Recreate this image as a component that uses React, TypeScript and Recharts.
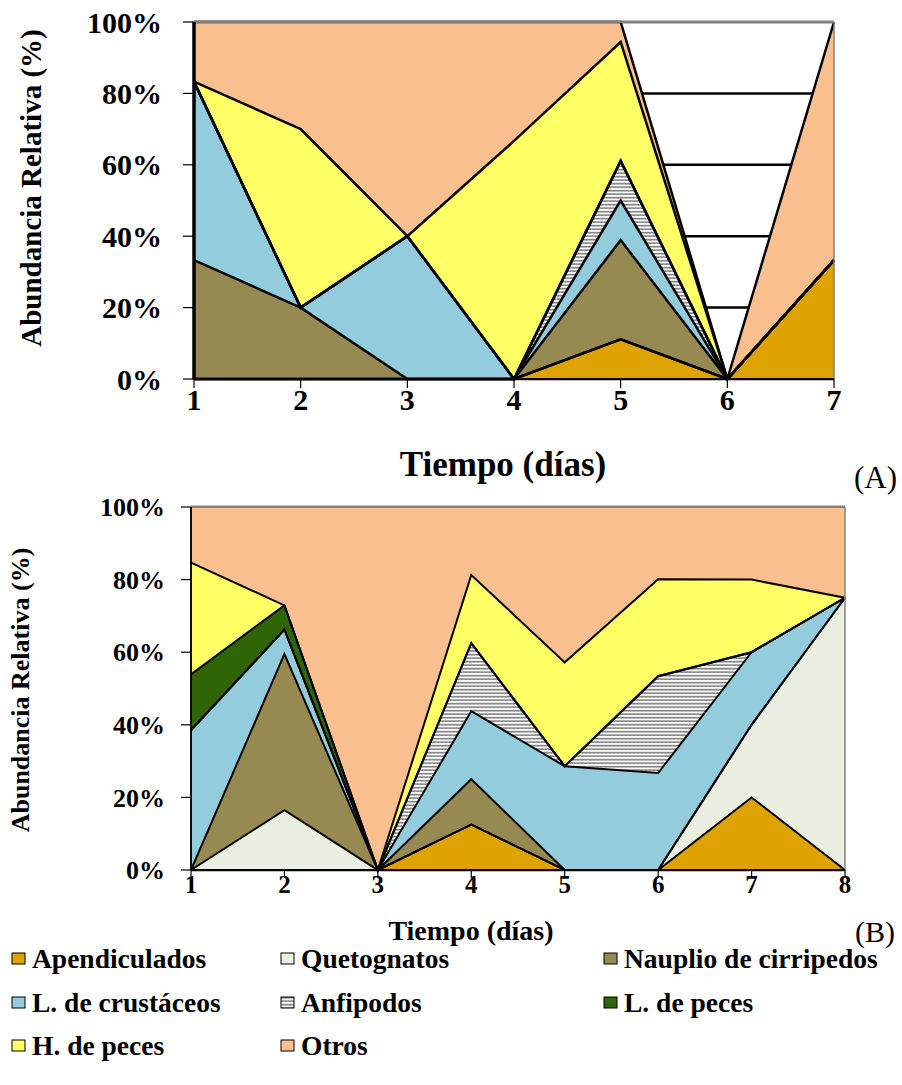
import React from 'react';
import { AreaChart, Area, XAxis, YAxis, CartesianGrid, ReferenceLine } from 'recharts';

const FONT = '"Liberation Serif", "Times New Roman", serif';

// stacking order, bottom to top
const SERIES = ['apend', 'queto', 'naup', 'crust', 'anfi', 'lpeces', 'hpeces', 'otros'];
const LABELS = [
  'Apendiculados',
  'Quetognatos',
  'Nauplio de cirripedos',
  'L. de crustáceos',
  'Anfipodos',
  'L. de peces',
  'H. de peces',
  'Otros',
];
const COLORS = ['#DEA300', '#EBEFE1', '#968A52', '#92CCDD', 'PATTERN', '#2F6505', '#FFFF66', '#F9BF8F'];

const Y_TICKS = [0, 20, 40, 60, 80, 100];

// (A)
const daysA = [1, 2, 3, 4, 5, 6, 7];
const apendA = [0, 0, 0, 0, 11.1, 0, 33.3];
const quetoA = [0, 0, 0, 0, 0, 0, 0];
const naupA = [33.3, 20, 0, 0, 27.8, 0, 0];
const crustA = [50, 0, 40, 0, 11.1, 0, 0];
const anfiA = [0, 0, 0, 0, 11.1, 0, 0];
const lpecesA = [0, 0, 0, 0, 0, 0, 0];
const hpecesA = [0, 50, 0, 66.7, 33.3, 0, 0];
const otrosA = [16.7, 30, 60, 33.3, 5.6, 0, 66.7];

// (B)
const daysB = [1, 2, 3, 4, 5, 6, 7, 8];
const apendB = [0, 0, 0, 12.5, 0, 0, 20, 0];
const quetoB = [0, 16.5, 0, 0, 0, 0, 20, 75];
const naupB = [0, 43, 0, 12.5, 0, 0, 0, 0];
const crustB = [38.5, 6.7, 0, 18.75, 28.6, 26.7, 20, 0];
const anfiB = [0, 0, 0, 18.75, 0, 26.7, 0, 0];
const lpecesB = [15.4, 6.7, 0, 0, 0, 0, 0, 0];
const hpecesB = [30.8, 0, 0, 18.75, 28.6, 26.7, 20, 0];
const otrosB = [15.3, 27.1, 100, 18.75, 42.8, 19.9, 20, 25];

const buildRows = (days: number[], cols: number[][]) =>
  days.map((day, i) => {
    const row: Record<string, number> = { day };
    SERIES.forEach((k, j) => {
      row[k] = cols[j][i];
    });
    return row;
  });

const rowsA = buildRows(daysA, [apendA, quetoA, naupA, crustA, anfiA, lpecesA, hpecesA, otrosA]);
const rowsB = buildRows(daysB, [apendB, quetoB, naupB, crustB, anfiB, lpecesB, hpecesB, otrosB]);

const ZigPattern = ({ id }: { id: string }) => (
  <pattern id={id} width={4} height={3.5} patternUnits="userSpaceOnUse">
    <rect width={4} height={3.5} fill="#fff" />
    <path d="M0 2.6 L1 0.8 L2 2.6 L3 0.8 L4 2.6" stroke="#000" strokeWidth={0.5} fill="none" />
  </pattern>
);

interface PanelProps {
  rows: Record<string, number>[];
  days: number[];
  top: number;
  height: number;
  margin: { top: number; right: number; bottom: number; left: number };
  yWidth: number;
  xHeight: number;
  yFont: number;
  xFont: number;
  yTickSize: number;
  yTickMargin: number;
  xTickSize: number;
  xTickMargin: number;
  patId: string;
  lineW: number;
  axisW: number;
}

const Panel = (p: PanelProps) => {
  const first = p.days[0];
  const last = p.days[p.days.length - 1];
  const tickStyle = (size: number) => ({ fill: '#000', fontSize: size, fontWeight: 'bold', fontFamily: FONT });
  return (
    <div style={{ position: 'absolute', left: 0, top: p.top }}>
      <AreaChart width={902} height={p.height} data={p.rows} margin={p.margin}>
        <defs>
          <ZigPattern id={p.patId} />
        </defs>
        <CartesianGrid vertical={false} stroke="#000" strokeWidth={2.5} />
        <XAxis
          type="number"
          dataKey="day"
          domain={[first, last]}
          ticks={p.days}
          interval={0}
          height={p.xHeight}
          tickSize={p.xTickSize}
          tickMargin={p.xTickMargin}
          tickLine={{ stroke: '#000', strokeWidth: 1.2 }}
          axisLine={{ stroke: '#000', strokeWidth: 1.5 }}
          tick={tickStyle(p.xFont)}
        />
        <YAxis
          domain={[0, 100]}
          ticks={Y_TICKS}
          interval={0}
          width={p.yWidth}
          tickSize={p.yTickSize}
          tickMargin={p.yTickMargin}
          tickFormatter={(v) => `${v}%`}
          tickLine={{ stroke: '#000', strokeWidth: 1.2 }}
          axisLine={{ stroke: '#000', strokeWidth: p.axisW }}
          tick={tickStyle(p.yFont)}
        />
        {SERIES.map((k, i) => (
          <Area
            key={'f' + k}
            type="linear"
            dataKey={k}
            stackId="fill"
            fill={COLORS[i] === 'PATTERN' ? `url(#${p.patId})` : COLORS[i]}
            fillOpacity={1}
            stroke="none"
            dot={false}
            activeDot={false}
            isAnimationActive={false}
          />
        ))}
        {SERIES.map((k) => (
          <Area
            key={'o' + k}
            type="linear"
            dataKey={k}
            stackId="outline"
            fill="none"
            stroke="#000"
            strokeWidth={p.lineW}
            dot={false}
            activeDot={false}
            isAnimationActive={false}
          />
        ))}
        <ReferenceLine y={100} stroke="#808080" strokeWidth={2} />
        <ReferenceLine x={last} stroke="#808080" strokeWidth={1.5} />
        <ReferenceLine x={first} stroke="#000" strokeWidth={p.axisW} />
        <ReferenceLine y={0} stroke="#000" strokeWidth={1.5} />
      </AreaChart>
    </div>
  );
};

const LegendItem = ({ i, x, y }: { i: number; x: number; y: number }) => (
  <div style={{ position: 'absolute', left: x, top: y - 16, height: 32, display: 'flex', alignItems: 'center' }}>
    <svg width={16} height={14} style={{ marginRight: 5 }}>
      <defs>
        <ZigPattern id={`legpat${i}`} />
      </defs>
      <rect
        x={1}
        y={1}
        width={13}
        height={11}
        fill={COLORS[i] === 'PATTERN' ? `url(#legpat${i})` : COLORS[i]}
        stroke="#000"
        strokeWidth={1}
      />
    </svg>
    <span style={{ fontFamily: FONT, fontWeight: 'bold', fontSize: 27.5, color: '#000', whiteSpace: 'nowrap' }}>
      {LABELS[i]}
    </span>
  </div>
);

const LEGEND_COLS = [11, 280, 603];
const LEGEND_ROWS = [959, 1003, 1046];

export default function App() {
  return (
    <div style={{ position: 'absolute', left: 0, top: 0, width: 902, height: 1085, background: '#fff', overflow: 'hidden' }}>
      <Panel
        rows={rowsA}
        days={daysA}
        top={0}
        height={420}
        margin={{ top: 22, right: 68, bottom: 1, left: 0 }}
        yWidth={194}
        xHeight={40}
        yFont={30}
        xFont={30}
        yTickSize={11}
        yTickMargin={21}
        xTickSize={9}
        xTickMargin={1}
        patId="zigA"
        lineW={2.5}
        axisW={3}
      />
      <Panel
        rows={rowsB}
        days={daysB}
        top={485}
        height={420}
        margin={{ top: 22, right: 57, bottom: 1, left: 0 }}
        yWidth={191}
        xHeight={34}
        yFont={26}
        xFont={25}
        yTickSize={10}
        yTickMargin={16}
        xTickSize={8}
        xTickMargin={-3}
        patId="zigB"
        lineW={2}
        axisW={1.5}
      />
      <svg width={902} height={1085} style={{ position: 'absolute', left: 0, top: 0, pointerEvents: 'none' }}>
        <text
          transform="translate(41,188) rotate(-90)"
          textAnchor="middle"
          fontFamily={FONT}
          fontWeight="bold"
          fontSize={29}
        >
          Abundancia Relativa (%)
        </text>
        <text x={503} y={476} textAnchor="middle" fontFamily={FONT} fontWeight="bold" fontSize={35}>
          Tiempo (días)
        </text>
        <text x={854} y={488} fontFamily={FONT} fontSize={31}>
          (A)
        </text>
        <text
          transform="translate(29,690) rotate(-90)"
          textAnchor="middle"
          fontFamily={FONT}
          fontWeight="bold"
          fontSize={26}
        >
          Abundancia Relativa (%)
        </text>
        <text x={471} y={940} textAnchor="middle" fontFamily={FONT} fontWeight="bold" fontSize={28}>
          Tiempo (días)
        </text>
        <text x={855} y={942} fontFamily={FONT} fontSize={30}>
          (B)
        </text>
      </svg>
      {LEGEND_ROWS.map((y, r) =>
        LEGEND_COLS.map((x, c) => {
          const i = r * 3 + c;
          return i < SERIES.length ? <LegendItem key={i} i={i} x={x} y={y} /> : null;
        })
      )}
    </div>
  );
}
